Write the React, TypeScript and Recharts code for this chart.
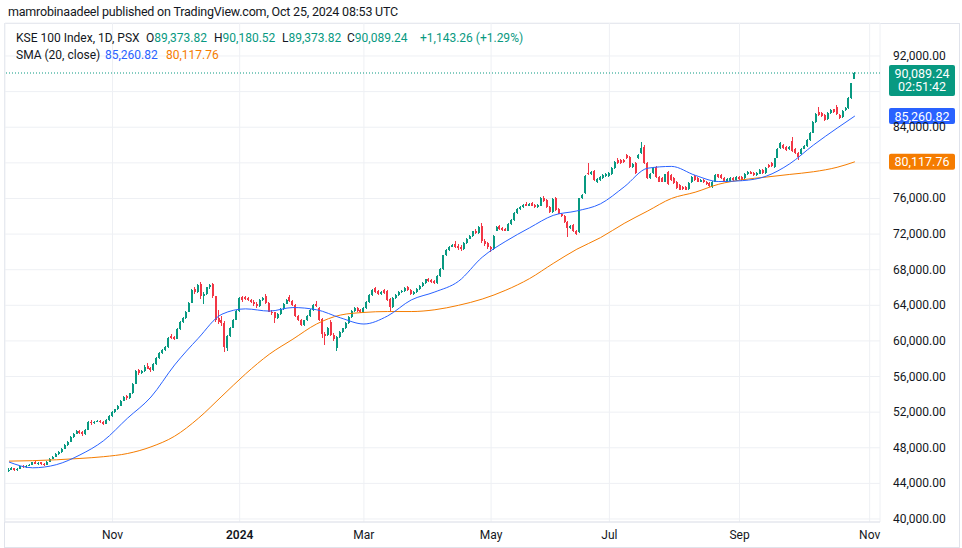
import { Bar, CartesianGrid, ComposedChart, Line, ReferenceLine, XAxis, YAxis } from "recharts";

// daily candles, [open, high, low, close] in thousands of points
const sepOct23 = [
  [45.4, 45.7, 45.3, 45.55], [45.55, 45.8, 45.45, 45.7], [45.7, 45.75, 45.4, 45.48], [45.48, 45.75, 45.42, 45.65],
  [45.65, 46.0, 45.6, 45.9], [45.95, 46.05, 45.75, 45.82], [45.82, 46.05, 45.78, 45.95], [45.95, 46.2, 45.9, 46.1],
  [46.1, 46.45, 46.05, 46.35], [46.4, 46.5, 46.15, 46.2], [46.2, 46.4, 46.1, 46.3], [46.35, 46.45, 46.1, 46.15],
  [46.2, 46.3, 46.0, 46.1], [46.1, 46.55, 46.05, 46.45], [46.45, 46.85, 46.4, 46.75], [46.75, 47.1, 46.7, 47.0],
  [47.0, 47.4, 46.95, 47.3], [47.3, 47.6, 47.2, 47.5], [47.5, 48.0, 47.45, 47.9], [47.9, 48.4, 47.85, 48.3],
  [48.3, 48.8, 48.25, 48.7], [48.7, 49.3, 48.65, 49.2], [49.2, 49.7, 49.1, 49.6], [49.6, 50.0, 49.5, 49.9],
  [49.9, 50.05, 49.6, 49.7], [49.75, 49.85, 49.35, 49.5], [49.5, 50.15, 49.45, 50.05], [50.05, 51.0, 50.0, 50.9],
  [50.95, 51.1, 50.6, 50.75], [50.75, 51.05, 50.65, 50.95], [50.95, 51.15, 50.85, 51.0], [51.05, 51.15, 50.75, 50.85],
  [50.9, 51.0, 50.6, 50.7], [50.7, 51.2, 50.65, 51.1], [51.1, 51.7, 51.05, 51.6],
];
const novDec23 = [
  [51.6, 52.1, 51.5, 52.0], [52.0, 52.4, 51.9, 52.3], [52.3, 52.8, 52.2, 52.7], [52.7, 53.4, 52.65, 53.3],
  [53.3, 53.8, 53.25, 53.7], [53.8, 53.9, 53.4, 53.55], [53.55, 54.2, 53.5, 54.1], [54.1, 55.3, 54.05, 55.2],
  [55.2, 56.7, 55.15, 56.6], [56.7, 56.85, 56.2, 56.4], [56.4, 56.75, 56.3, 56.6], [56.6, 57.3, 56.5, 57.1],
  [57.2, 57.5, 56.8, 56.9], [56.95, 57.1, 56.55, 56.7], [56.7, 57.5, 56.65, 57.4], [57.4, 58.2, 57.35, 58.1],
  [58.1, 58.7, 58.0, 58.6], [58.6, 59.1, 58.5, 59.0], [59.0, 59.4, 58.9, 59.3], [59.3, 60.4, 59.25, 60.3],
  [60.6, 60.8, 60.2, 60.35], [60.4, 60.55, 60.05, 60.25], [60.25, 61.4, 60.2, 61.3], [61.3, 62.2, 61.25, 62.1],
  [62.1, 62.7, 62.0, 62.6], [62.6, 63.4, 62.5, 63.3], [63.3, 64.4, 63.2, 64.3], [64.3, 65.8, 64.25, 65.7],
  [65.8, 66.0, 65.3, 65.5], [65.5, 66.4, 65.4, 66.3], [66.4, 66.6, 64.7, 65.0], [65.0, 65.5, 64.1, 65.3],
  [65.3, 66.1, 65.2, 66.0], [66.0, 66.4, 65.8, 66.3], [66.4, 66.55, 64.8, 65.0], [65.0, 65.1, 62.1, 62.3],
  [62.6, 63.5, 61.9, 62.1], [62.4, 62.8, 61.7, 62.0], [62.0, 62.2, 58.8, 59.3], [59.2, 60.7, 58.9, 60.6],
  [60.6, 61.6, 60.4, 61.5], [61.5, 62.5, 61.4, 62.4], [62.4, 63.5, 62.3, 63.4],
];
const janFeb24 = [
  [63.4, 64.9, 63.3, 64.8], [64.9, 65.1, 64.4, 64.6], [64.9, 65.05, 64.55, 64.7], [64.8, 64.95, 64.45, 64.6],
  [64.6, 64.75, 64.25, 64.4], [64.4, 64.55, 63.95, 64.1], [64.2, 64.35, 63.7, 63.9], [63.9, 64.7, 63.8, 64.6],
  [64.6, 64.9, 64.45, 64.8], [65.0, 65.3, 64.2, 64.3], [64.3, 64.4, 63.2, 63.3], [63.3, 63.45, 62.95, 63.1],
  [63.2, 63.3, 62.0, 62.6], [62.6, 63.1, 62.5, 63.0], [63.0, 63.7, 62.9, 63.6], [63.6, 64.3, 63.5, 64.2],
  [64.2, 64.7, 64.1, 64.6], [64.9, 65.2, 64.4, 64.5], [64.5, 64.65, 63.9, 64.0], [64.0, 64.1, 62.7, 62.8],
  [62.8, 62.95, 62.2, 62.3], [62.3, 62.45, 61.7, 61.8], [61.8, 62.4, 61.7, 62.3], [62.3, 62.9, 62.2, 62.8],
  [62.8, 63.6, 62.7, 63.5], [63.5, 64.1, 63.4, 64.0], [64.2, 64.5, 63.8, 63.9], [63.7, 63.8, 62.2, 62.3],
  [62.5, 62.6, 60.3, 60.8], [60.8, 61.0, 59.5, 60.5], [60.7, 61.6, 60.5, 61.5], [62.1, 62.3, 60.6, 60.7],
  [60.7, 60.85, 60.0, 60.2], [59.2, 60.5, 58.9, 60.4], [60.4, 61.1, 60.3, 61.0], [61.0, 61.5, 60.9, 61.4],
  [61.4, 62.1, 61.3, 62.0], [62.0, 62.8, 61.9, 62.7], [62.7, 63.5, 62.6, 63.4], [63.4, 63.8, 63.3, 63.7],
  [63.75, 63.85, 63.3, 63.4], [63.45, 63.6, 63.1, 63.2],
];
const marApr24 = [
  [63.2, 63.8, 63.1, 63.7], [63.7, 64.5, 63.6, 64.4], [64.4, 65.3, 64.3, 65.2], [65.2, 65.8, 65.1, 65.7],
  [65.9, 66.1, 65.4, 65.5], [65.6, 65.75, 65.2, 65.3], [65.3, 65.65, 65.2, 65.5], [65.7, 65.85, 65.3, 65.4],
  [65.6, 65.7, 64.5, 64.6], [64.7, 64.8, 63.4, 63.8], [63.8, 64.9, 63.7, 64.8], [64.8, 65.3, 64.7, 65.2],
  [65.2, 65.6, 65.1, 65.5], [65.5, 65.75, 65.4, 65.6], [65.6, 66.0, 65.5, 65.9], [66.0, 66.15, 65.6, 65.7],
  [65.7, 65.85, 65.2, 65.3], [65.3, 65.6, 65.2, 65.5], [65.5, 65.9, 65.4, 65.8], [65.8, 66.3, 65.7, 66.2],
  [66.2, 66.6, 66.1, 66.5], [66.5, 67.0, 66.4, 66.9], [66.9, 67.1, 66.6, 66.7], [66.8, 66.95, 66.5, 66.6],
  [66.7, 66.85, 66.4, 66.5], [66.5, 67.4, 66.4, 67.3], [67.3, 68.2, 67.2, 68.1], [68.1, 69.7, 68.0, 69.6],
  [69.6, 70.3, 69.5, 70.2], [70.2, 70.7, 70.1, 70.6], [70.6, 70.9, 70.5, 70.75], [70.9, 71.2, 70.4, 70.5],
  [70.7, 70.85, 70.2, 70.4], [70.6, 70.75, 70.1, 70.3], [70.3, 71.1, 70.2, 71.0], [71.0, 71.6, 70.9, 71.5],
  [71.5, 71.9, 71.4, 71.8], [71.8, 72.4, 71.7, 72.3], [72.4, 72.6, 72.0, 72.1], [72.1, 72.9, 72.0, 72.8],
  [72.9, 73.2, 71.0, 71.2], [71.2, 71.4, 70.7, 70.9], [71.0, 71.1, 70.3, 70.5],
];
const mayJun24 = [
  [70.5, 70.7, 70.0, 70.3], [70.3, 71.9, 70.2, 71.8], [72.4, 72.95, 72.3, 72.8], [72.9, 73.05, 72.5, 72.6],
  [72.7, 72.85, 72.4, 72.5], [72.6, 72.7, 72.3, 72.4], [72.4, 73.2, 72.3, 73.1], [73.1, 73.7, 73.0, 73.6],
  [73.6, 74.5, 73.5, 74.4], [74.4, 74.9, 74.3, 74.8], [74.8, 75.1, 74.7, 75.0], [75.0, 75.4, 74.9, 75.3],
  [75.4, 75.55, 75.1, 75.2], [75.2, 75.5, 75.1, 75.4], [75.5, 75.65, 75.1, 75.2], [75.3, 75.4, 74.9, 75.0],
  [75.0, 75.4, 74.9, 75.3], [75.2, 76.2, 75.1, 76.0], [76.1, 76.3, 75.6, 75.7], [75.8, 75.9, 74.9, 75.0],
  [75.0, 75.1, 74.4, 74.5], [74.5, 76.0, 74.4, 75.9], [76.0, 76.2, 74.6, 74.7], [74.8, 74.9, 74.2, 74.3],
  [74.3, 74.4, 73.9, 74.0], [74.0, 74.1, 73.3, 73.4], [73.4, 73.5, 71.7, 72.7], [72.7, 73.0, 72.6, 72.9],
  [73.0, 73.1, 72.2, 72.3], [72.4, 72.5, 71.9, 72.0], [72.2, 76.1, 72.1, 76.0], [76.0, 76.5, 75.9, 76.4],
  [76.6, 78.6, 76.5, 78.5], [78.9, 80.0, 78.6, 78.7], [78.7, 79.1, 78.6, 79.0], [79.1, 79.2, 78.0, 78.1],
  [77.8, 78.3, 77.7, 78.2], [78.1, 78.5, 78.0, 78.4], [78.3, 78.7, 78.2, 78.6], [78.5, 78.9, 78.4, 78.8],
];
const julAug24 = [
  [78.5, 79.0, 78.4, 78.9], [78.7, 79.5, 78.6, 79.4], [79.4, 80.2, 79.3, 80.1], [80.3, 80.5, 79.9, 80.0],
  [80.3, 80.45, 79.9, 80.0], [80.3, 80.4, 80.0, 80.1], [80.9, 81.0, 80.4, 80.5], [80.7, 80.8, 79.4, 79.5],
  [79.5, 80.0, 79.4, 79.9], [80.0, 80.1, 78.8, 78.9], [80.5, 81.0, 80.4, 80.9], [81.1, 82.3, 81.0, 81.7],
  [81.8, 82.0, 79.9, 80.0], [80.0, 80.1, 78.2, 78.3], [78.3, 78.9, 78.2, 78.8], [78.9, 79.5, 78.8, 79.4],
  [79.5, 79.6, 78.3, 78.4], [78.4, 78.5, 77.8, 77.9], [78.3, 78.4, 77.8, 77.9], [77.9, 78.8, 77.8, 78.7],
  [79.0, 79.1, 77.5, 77.6], [78.6, 78.75, 78.0, 78.1], [78.3, 78.4, 77.6, 77.7], [77.9, 78.0, 77.1, 77.2],
  [77.5, 77.6, 76.9, 77.0], [77.3, 77.4, 77.0, 77.1], [77.3, 77.4, 76.9, 77.0], [77.1, 77.8, 77.0, 77.7],
  [77.8, 78.5, 77.7, 78.4], [78.5, 78.6, 78.0, 78.1], [78.3, 78.4, 77.8, 77.9], [77.9, 78.2, 77.8, 78.1],
  [78.1, 78.2, 77.7, 77.8], [77.9, 78.0, 77.5, 77.6], [77.7, 77.8, 77.3, 77.4], [77.3, 78.0, 77.2, 77.9],
  [77.9, 78.7, 77.8, 78.6], [78.7, 78.8, 78.3, 78.4], [78.6, 78.7, 78.2, 78.3], [78.3, 78.4, 77.8, 77.9],
  [77.9, 78.3, 77.8, 78.2], [78.0, 78.4, 77.9, 78.3], [78.3, 78.4, 78.0, 78.1], [78.1, 78.5, 78.0, 78.4],
];
const sepOct24 = [
  [78.4, 78.5, 78.1, 78.2], [78.4, 78.5, 78.0, 78.1], [78.3, 78.9, 78.2, 78.8], [78.7, 79.1, 78.6, 79.0],
  [79.0, 79.1, 78.7, 78.8], [78.9, 79.0, 78.5, 78.6], [78.6, 79.0, 78.5, 78.9], [78.8, 79.3, 78.7, 79.2],
  [79.2, 79.3, 78.8, 78.9], [78.9, 79.5, 78.8, 79.4], [79.8, 79.9, 79.4, 79.5], [80.0, 80.1, 79.5, 79.6],
  [79.5, 80.6, 79.4, 80.5], [80.6, 81.7, 80.5, 81.6], [81.7, 82.3, 81.6, 82.2], [82.0, 82.1, 81.6, 81.7],
  [81.8, 81.9, 81.3, 81.4], [81.5, 81.9, 81.4, 81.8], [82.5, 82.9, 81.2, 81.3], [81.6, 81.7, 81.0, 81.1],
  [81.1, 81.2, 80.3, 80.7], [81.0, 81.7, 80.9, 81.6], [81.6, 82.0, 81.5, 81.9], [81.9, 82.7, 81.8, 82.6],
  [82.6, 83.5, 82.5, 83.4], [83.4, 84.7, 83.3, 84.6], [84.6, 85.6, 84.5, 85.5], [85.7, 86.3, 85.3, 85.4],
  [85.6, 85.7, 85.2, 85.3], [85.4, 85.5, 84.7, 84.8], [84.9, 85.7, 84.8, 85.6], [85.6, 86.0, 85.5, 85.9],
  [86.0, 86.1, 85.6, 85.7], [86.3, 86.5, 85.4, 85.5], [85.4, 85.5, 84.9, 85.0], [85.1, 85.9, 85.0, 85.8],
  [85.9, 86.3, 85.8, 86.2], [86.2, 87.4, 86.1, 87.3], [87.3, 89.0, 87.2, 88.94598],
  [89.37382, 90.18052, 89.37382, 90.08924],
];

// SMA values read every 8th bar, plus the value on the last bar
const smaStep = 8;
const sma20 = [
  46.4, 45.75, 46.1, 47.2, 48.8, 51.3, 53.7, 57.3, 60.3, 63.0, 63.6, 63.35, 63.75, 63.5, 62.6, 61.9, 62.8, 64.6,
  65.5, 66.7, 69.4, 71.2, 72.7, 74.1, 74.6, 75.4, 77.3, 79.4, 79.6, 78.6, 77.9, 78.0, 78.5, 79.9, 82.0, 83.9,
];
const sma20Last = 85.26082;
const smaSlow = [
  46.5, 46.55, 46.65, 46.8, 47.0, 47.35, 48.1, 49.3, 51.3, 53.8, 56.3, 58.5, 60.2, 61.9, 62.9, 63.2, 63.3, 63.3,
  63.5, 64.0, 64.7, 65.7, 67.0, 68.7, 70.3, 71.6, 73.2, 74.6, 76.0, 76.7, 77.6, 78.1, 78.4, 78.7, 79.0, 79.5,
];
const smaSlowLast = 80.11776;

const monthTicks = [35, 78, 120, 163, 203, 247, 291];
const monthLabels = ["Nov", "2024", "Mar", "May", "Jul", "Sep", "Nov"];
const priceTicks = [40000, 44000, 48000, 52000, 56000, 60000, 64000, 68000, 72000, 76000, 80000, 84000, 88000, 92000];

const UP = "#089981";
const DOWN = "#f23645";
const BLUE = "#2962ff";
const ORANGE = "#f57c00";
const TEXT = "#131722";
const GRID = "#eef0f4";
const FONT = "Roboto, 'Noto Sans', sans-serif";

const candles = [...sepOct23, ...novDec23, ...janFeb24, ...marApr24, ...mayJun24, ...julAug24, ...sepOct24];
const lastIdx = candles.length - 1;
const rows = candles.map(([o, h, l, c], i) => {
  const k = i % smaStep === 0 ? i / smaStep : -1;
  return {
    i,
    o: o * 1000,
    h: h * 1000,
    l: l * 1000,
    c: c * 1000,
    range: [l * 1000, h * 1000],
    sma20: i === lastIdx ? sma20Last * 1000 : k >= 0 && k < sma20.length ? sma20[k] * 1000 : null,
    smaSlow: i === lastIdx ? smaSlowLast * 1000 : k >= 0 && k < smaSlow.length ? smaSlow[k] * 1000 : null,
  };
});

const last = rows[lastIdx];
const prev = rows[lastIdx - 1];
const change = last.c - prev.c;
const fmt = (v: number) => v.toLocaleString("en-US", { minimumFractionDigits: 2, maximumFractionDigits: 2 });

// price tags on the right scale: value, colour, and how far (in points) each covers above / below
const tags = [
  { v: last.c, color: UP, sub: "02:51:42", up: 950, down: 2550 },
  { v: sma20Last * 1000, color: BLUE, sub: "", up: 950, down: 950 },
  { v: smaSlowLast * 1000, color: ORANGE, sub: "", up: 950, down: 950 },
];

function Candle(props: any) {
  const { x, y, width, height, payload } = props;
  if (payload == null) return null;
  const top = Math.min(y, y + height);
  const span = Math.abs(height);
  const { o, h, l, c } = payload;
  const color = c >= o ? UP : DOWN;
  const py = (v: number) => top + (h === l ? 0 : ((h - v) / (h - l)) * span);
  const bTop = py(Math.max(o, c));
  const bBot = py(Math.min(o, c));
  const cx = x + width / 2;
  return (
    <g shapeRendering="crispEdges">
      <rect x={Math.round(cx - 0.5)} y={top} width={1} height={Math.max(1, span)} fill={color} />
      <rect x={Math.round(cx - 1)} y={bTop} width={2} height={Math.max(1, bBot - bTop)} fill={color} />
    </g>
  );
}

function MonthTick(props: any) {
  const { x, y, payload } = props;
  const label = monthLabels[monthTicks.indexOf(payload.value)];
  return (
    <text x={x} y={y} dy={9} textAnchor="middle" fontSize={12} fill={TEXT} fontFamily={FONT} fontWeight={label === "2024" ? 600 : 400}>
      {label}
    </text>
  );
}

function PriceTick(props: any) {
  const { x, y, payload } = props;
  const v = payload.value;
  const hidden = tags.some((t) => v < t.v + t.up && v > t.v - t.down);
  if (hidden) return null;
  return (
    <text x={x} y={y} dy={4} textAnchor="start" fontSize={12} fill={TEXT} fontFamily={FONT}>
      {fmt(v)}
    </text>
  );
}

function PriceTag(props: any) {
  const { viewBox, color, text, sub } = props;
  if (!viewBox) return null;
  const x = viewBox.x + viewBox.width + 9;
  const y = viewBox.y;
  const h = sub ? 31 : 16;
  return (
    <g>
      <rect x={x} y={y - 8} width={66} height={h} rx={2} fill={color} />
      <text x={x + 33} y={y + 4.5} textAnchor="middle" fontSize={12.5} fill="#fff" fontFamily={FONT}>
        {text}
      </text>
      {sub ? (
        <text x={x + 33} y={y + 18} textAnchor="middle" fontSize={12.5} fill="#fff" fontFamily={FONT}>
          {sub}
        </text>
      ) : null}
    </g>
  );
}

const legend = { position: "absolute" as const, fontSize: 12, lineHeight: "16px", whiteSpace: "nowrap" as const };

export default function App() {
  return (
    <div style={{ position: "relative", width: 962, height: 548, background: "#fff", fontFamily: FONT, color: TEXT, overflow: "hidden" }}>
      <style>{"body{margin:0}"}</style>
      <div style={{ position: "absolute", left: 4, top: 23, width: 956, height: 525, border: "1px solid #e0e3eb", boxSizing: "border-box" }} />
      <div style={{ position: "absolute", left: 0, top: 0 }}>
        <ComposedChart width={962} height={548} data={rows} margin={{ top: 23, right: 0, bottom: 0, left: 5 }}>
          <CartesianGrid stroke={GRID} />
          <XAxis
            type="number"
            dataKey="i"
            domain={[-1.35, 294.5]}
            ticks={monthTicks}
            allowDataOverflow
            height={26}
            tickSize={0}
            tickMargin={8}
            tick={<MonthTick />}
            axisLine={{ stroke: "#e0e3eb" }}
            tickLine={false}
          />
          <YAxis
            orientation="right"
            width={82}
            domain={[39663, 95706]}
            ticks={priceTicks}
            allowDataOverflow
            tickSize={0}
            tickMargin={13}
            tickLine={false}
            axisLine={false}
            tick={<PriceTick />}
          />
          <Line dataKey="smaSlow" stroke={ORANGE} strokeWidth={1} dot={false} connectNulls type="monotone" isAnimationActive={false} />
          <Line dataKey="sma20" stroke={BLUE} strokeWidth={1} dot={false} connectNulls type="monotone" isAnimationActive={false} />
          <Bar dataKey="range" barSize={2} shape={<Candle />} isAnimationActive={false} />
          {tags.map((t) => (
            <ReferenceLine
              key={t.color}
              y={t.v}
              stroke={t.sub ? t.color : "none"}
              strokeDasharray="1 2"
              label={<PriceTag color={t.color} text={fmt(t.v)} sub={t.sub} />}
            />
          ))}
        </ComposedChart>
      </div>
      <div style={{ position: "absolute", left: 8, top: 4, fontSize: 12.5, letterSpacing: -0.2, lineHeight: "16px", whiteSpace: "nowrap" }}>
        mamrobinaadeel published on TradingView.com, Oct 25, 2024 08:53 UTC
      </div>
      <div style={{ ...legend, left: 16, top: 30 }}>KSE 100 Index, 1D, PSX</div>
      <div style={{ ...legend, left: 146, top: 30 }}>
        O<span style={{ color: UP }}>{fmt(last.o)}</span>
      </div>
      <div style={{ ...legend, left: 214, top: 30 }}>
        H<span style={{ color: UP }}>{fmt(last.h)}</span>
      </div>
      <div style={{ ...legend, left: 282, top: 30 }}>
        L<span style={{ color: UP }}>{fmt(last.l)}</span>
      </div>
      <div style={{ ...legend, left: 347, top: 30 }}>
        C<span style={{ color: UP }}>{fmt(last.c)}</span>
      </div>
      <div style={{ ...legend, left: 420, top: 30, color: UP }}>
        +{fmt(change)} (+{((change / prev.c) * 100).toFixed(2)}%)
      </div>
      <div style={{ ...legend, left: 16, top: 47 }}>SMA (20, close)</div>
      <div style={{ ...legend, left: 105, top: 47, color: BLUE }}>{fmt(sma20Last * 1000)}</div>
      <div style={{ ...legend, left: 166, top: 47, color: ORANGE }}>{fmt(smaSlowLast * 1000)}</div>
    </div>
  );
}
